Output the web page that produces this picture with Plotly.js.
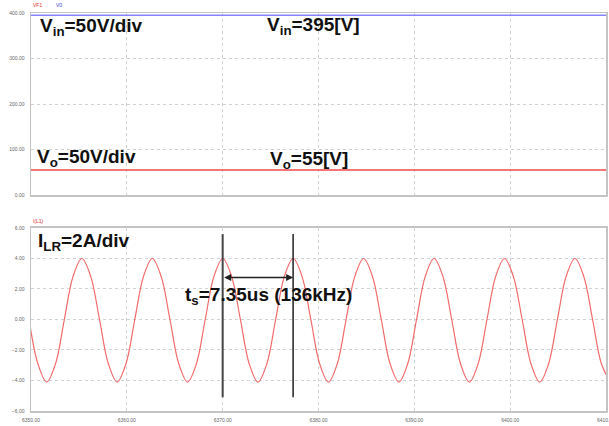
<!DOCTYPE html>
<html>
<head>
<meta charset="utf-8">
<script src="https://cdn.plot.ly/plotly-3.0.1.min.js"></script>
<style>html,body{margin:0;padding:0;background:#fff;}#chart{width:609px;height:426px;}</style>
</head>
<body>
<div id="chart"></div>
<script>
// ---- data ----
const vinTime = [6350, 6410];
const vinValue = [395, 395];
const voTime = [6350, 6410];
const voValue = [55, 55];
const ilrTime = [6349.80,6350.72,6351.64,6352.56,6353.48,6354.39,6355.31,6356.23,6357.15,6358.07,6358.99,6359.91,6360.83,6361.74,6362.66,6363.58,6364.50,6365.42,6366.34,6367.26,6368.18,6369.09,6370.01,6370.93,6371.85,6372.77,6373.69,6374.61,6375.53,6376.44,6377.36,6378.28,6379.20,6380.12,6381.04,6381.96,6382.88,6383.79,6384.71,6385.63,6386.55,6387.47,6388.39,6389.31,6390.23,6391.14,6392.06,6392.98,6393.90,6394.82,6395.74,6396.66,6397.58,6398.49,6399.41,6400.33,6401.25,6402.17,6403.09,6404.01,6404.93,6405.84,6406.76,6407.68,6408.60,6409.52,6410.44];
const ilrValue = [0,-2.9,-4.1,-2.9,0,2.83,4.0,2.83,0,-2.9,-4.1,-2.9,0,2.83,4.0,2.83,0,-2.9,-4.1,-2.9,0,2.83,4.0,2.83,0,-2.9,-4.1,-2.9,0,2.83,4.0,2.83,0,-2.9,-4.1,-2.9,0,2.83,4.0,2.83,0,-2.9,-4.1,-2.9,0,2.83,4.0,2.83,0,-2.9,-4.1,-2.9,0,2.83,4.0,2.83,0,-2.9,-4.1,-2.9,0,2.83,4.0,2.83,0,-2.9,-4.1];
const cursorTime = [6370.0, 6377.35];
const cursorSpan = [-5.1, 5.6];
const arrowLevel = 2.75;
const xTicks = [6350, 6360, 6370, 6380, 6390, 6400, 6410];
const topTicks = [0, 100, 200, 300, 400];
const bottomTicks = [-6, -4, -2, 0, 2, 4, 6];
const topLabels = ['VF1', 'V0'];
const bottomLabel = 'I(L1)';

const FONT = 'Arial, "Liberation Sans", sans-serif';
const GRID = '#d2d2d2';
const FRAME = '#c4c4c4';
const tickFont = {family: FONT, size: 5, color: '#666'};

const traces = [
  {x: vinTime, y: vinValue, xaxis: 'x', yaxis: 'y', mode: 'lines', line: {color: '#8484ff', width: 1.5}, hoverinfo: 'skip'},
  {x: voTime, y: voValue, xaxis: 'x', yaxis: 'y', mode: 'lines', line: {color: '#f04848', width: 1.3}, hoverinfo: 'skip'},
  {x: ilrTime, y: ilrValue, xaxis: 'x2', yaxis: 'y2', mode: 'lines', line: {color: '#f26a6a', width: 1.2, shape: 'spline', smoothing: 1}, hoverinfo: 'skip'}
];

const axisCommon = {
  range: [xTicks[0], xTicks[xTicks.length - 1]],
  tickvals: xTicks, tickformat: '.2f', tickfont: tickFont,
  showgrid: true, gridcolor: GRID, griddash: 'dot', gridwidth: 1,
  showline: true, mirror: true, linecolor: FRAME, linewidth: 1.5,
  zeroline: false, ticks: '', fixedrange: true, ticklabeloverflow: 'allow'
};

const bigFont = {family: FONT, size: 19, color: '#111'};
function label(text, x, y, xref, yref) {
  return {text: '<b>' + text + '</b>', x: x, y: y, xref: xref, yref: yref, xanchor: 'left', yanchor: 'middle', showarrow: false, font: bigFont};
}

const annotations = [
  label('V<sub>in</sub>=50V/div', 6350.7, 369, 'x', 'y'),
  label('V<sub>in</sub>=395[V]', 6374.4, 372, 'x', 'y'),
  label('V<sub>o</sub>=50V/div', 6350.4, 82, 'x', 'y'),
  label('V<sub>o</sub>=55[V]', 6374.7, 78, 'x', 'y'),
  label('I<sub>LR</sub>=2A/div', 6350.5, 5.1, 'x2', 'y2'),
  label('t<sub>s</sub>=7.35us (136kHz)', 6365.9, 1.55, 'x2', 'y2'),
  {text: '', x: cursorTime[1], y: arrowLevel, ax: cursorTime[0], ay: arrowLevel, xref: 'x2', yref: 'y2', axref: 'x2', ayref: 'y2',
   showarrow: true, arrowhead: 2, arrowside: 'end+start', arrowsize: 1, arrowwidth: 1.4, arrowcolor: '#222', standoff: 0, startstandoff: 0},
  {text: topLabels[0], x: 0, y: 1, xref: 'x domain', yref: 'y domain', xanchor: 'left', yanchor: 'bottom', yshift: 3, showarrow: false, font: {family: FONT, size: 5, color: '#e03030'}},
  {text: topLabels[1], x: 0.04, y: 1, xref: 'x domain', yref: 'y domain', xanchor: 'left', yanchor: 'bottom', yshift: 3, showarrow: false, font: {family: FONT, size: 5, color: '#4040e0'}},
  {text: bottomLabel, x: 0, y: 1, xref: 'x2 domain', yref: 'y2 domain', xanchor: 'left', yanchor: 'bottom', yshift: 2, showarrow: false, font: {family: FONT, size: 5, color: '#e03030'}}
];

const shapes = [
  {type: 'line', xref: 'x2', yref: 'y2', x0: cursorTime[0], x1: cursorTime[0], y0: cursorSpan[0], y1: cursorSpan[1], line: {color: '#444', width: 2}},
  {type: 'line', xref: 'x2', yref: 'y2', x0: cursorTime[1], x1: cursorTime[1], y0: cursorSpan[0], y1: cursorSpan[1], line: {color: '#111', width: 1.4}}
];

const layout = {
  width: 609, height: 426,
  margin: {l: 31, r: 3, t: 13, b: 15, pad: 0},
  paper_bgcolor: '#fff', plot_bgcolor: '#fff',
  showlegend: false,
  xaxis: Object.assign({}, axisCommon, {anchor: 'y', showticklabels: false, domain: [0, 1]}),
  yaxis: {domain: [0.5427, 1], range: [0, 400], tickvals: topTicks, tickformat: '.2f', tickfont: tickFont,
          showgrid: true, gridcolor: GRID, griddash: 'dot', showline: true, mirror: true, linecolor: FRAME, linewidth: 1.5,
          zeroline: false, ticks: '', ticklabelstandoff: 4, fixedrange: true},
  xaxis2: Object.assign({}, axisCommon, {anchor: 'y2', domain: [0, 1], ticklabelstandoff: 3}),
  yaxis2: {domain: [0, 0.4598], range: [-6, 6], tickvals: bottomTicks, tickformat: '.2f', tickfont: tickFont,
           showgrid: true, gridcolor: GRID, griddash: 'dot', showline: true, mirror: true, linecolor: FRAME, linewidth: 1.5,
           zeroline: false, ticks: '', ticklabelstandoff: 4, fixedrange: true},
  annotations: annotations,
  shapes: shapes
};

Plotly.newPlot('chart', traces, layout, {displayModeBar: false, staticPlot: true});
</script>
</body>
</html>
